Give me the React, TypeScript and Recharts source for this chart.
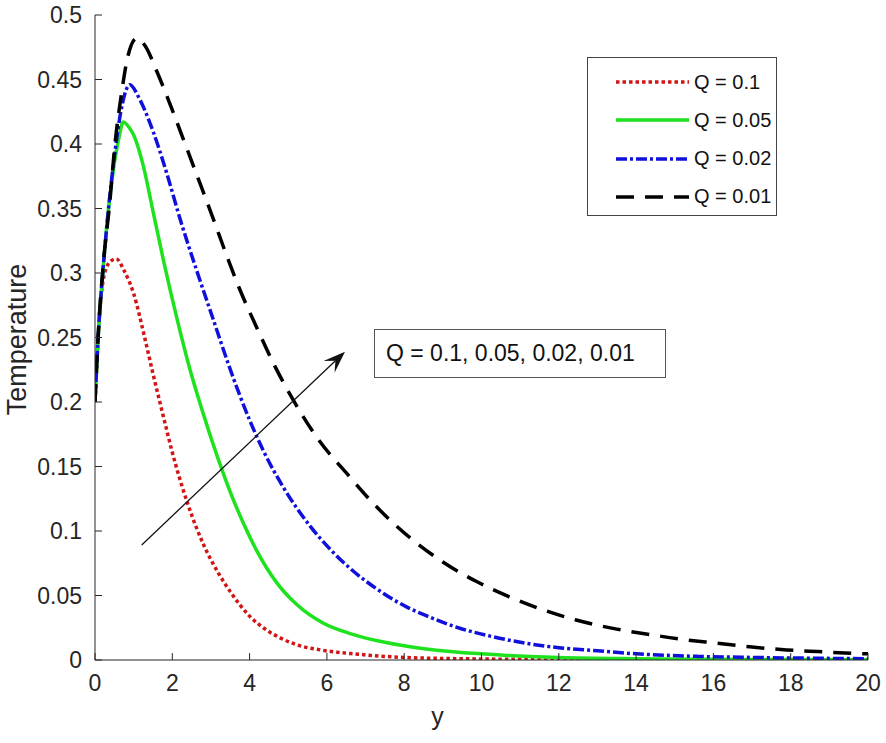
import React from "react";
import { Label, Legend, Line, LineChart, XAxis, YAxis } from "recharts";

const W = 886;
const H = 743;
const FONT = "'Liberation Sans', Arial, Helvetica, sans-serif";
const INK = "#262626";

const xTicks = [0, 2, 4, 6, 8, 10, 12, 14, 16, 18, 20];
const yTicks = [0, 0.05, 0.1, 0.15, 0.2, 0.25, 0.3, 0.35, 0.4, 0.45, 0.5];

// Q = 0.1
const redX = [0, 0.08, 0.16, 0.25, 0.4, 0.55, 0.75, 1.0, 1.3, 1.5, 1.8, 2.0, 2.4, 2.8, 3.2, 3.5, 4.0, 4.4, 4.8, 5.2, 5.9, 6.8, 8, 10, 12, 14, 16, 18, 20];
const redV = [0.2, 0.25, 0.282, 0.3, 0.309, 0.311, 0.302, 0.284, 0.248, 0.222, 0.185, 0.161, 0.121, 0.09, 0.067, 0.053, 0.034, 0.024, 0.017, 0.012, 0.0075, 0.0045, 0.002, 0.0008, 0.0004, 0.0002, 0.0001, 0.0001, 0.0001];

// Q = 0.05
const greenX = [0, 0.1, 0.2, 0.35, 0.5, 0.62, 0.73, 0.9, 1.0, 1.25, 1.5, 1.77, 2.11, 2.45, 2.8, 3.15, 3.49, 3.84, 4.18, 4.7, 5.22, 5.91, 6.6, 7.37, 8.15, 9.2, 10.7, 12, 14, 16, 18, 20];
const greenV = [0.2, 0.26, 0.3, 0.35, 0.385, 0.405, 0.417, 0.412, 0.407, 0.383, 0.348, 0.31, 0.266, 0.226, 0.191, 0.159, 0.131, 0.106, 0.085, 0.06, 0.043, 0.0285, 0.0205, 0.0145, 0.0103, 0.0065, 0.0035, 0.002, 0.001, 0.0005, 0.0003, 0.0002];

// Q = 0.02
const blueX = [0, 0.1, 0.2, 0.35, 0.5, 0.7, 0.9, 1.15, 1.5, 1.85, 2.2, 2.63, 3.06, 3.49, 4.0, 4.36, 4.87, 5.56, 6.08, 6.6, 7.2, 8.07, 8.6, 9.4, 10.3, 12, 13, 13.9, 15.6, 17, 18.5, 20];
const blueV = [0.2, 0.26, 0.3, 0.35, 0.39, 0.43, 0.446, 0.435, 0.41, 0.378, 0.342, 0.302, 0.264, 0.226, 0.186, 0.162, 0.134, 0.104, 0.086, 0.071, 0.057, 0.041, 0.034, 0.025, 0.018, 0.0095, 0.0072, 0.005, 0.0028, 0.002, 0.0014, 0.001];

// Q = 0.01
const blackX = [0, 0.085, 0.21, 0.39, 0.5, 0.69, 0.85, 1.08, 1.3, 1.59, 1.94, 2.37, 2.71, 3.06, 3.4, 3.75, 4.18, 4.65, 5.12, 5.73, 6.59, 7.15, 8.14, 9.0, 9.86, 10.72, 11.58, 12.45, 13.4, 14.3, 15.2, 16.1, 17.0, 17.9, 18.7, 19.6, 20];
const blackV = [0.2, 0.253, 0.305, 0.357, 0.395, 0.44, 0.468, 0.482, 0.476, 0.457, 0.431, 0.397, 0.37, 0.342, 0.314, 0.287, 0.258, 0.228, 0.202, 0.173, 0.142, 0.123, 0.095, 0.076, 0.061, 0.049, 0.039, 0.031, 0.0245, 0.02, 0.016, 0.013, 0.01, 0.0078, 0.0065, 0.0052, 0.0048];

const series = [
  { name: "Q = 0.1", xs: redX, vs: redV, color: "#d21414", dash: "3.5 3", width: 3.5 },
  { name: "Q = 0.05", xs: greenX, vs: greenV, color: "#1ee21e", dash: undefined, width: 3.5 },
  { name: "Q = 0.02", xs: blueX, vs: blueV, color: "#1010dc", dash: "11 3 3 3", width: 3.5 },
  { name: "Q = 0.01", xs: blackX, vs: blackV, color: "#000000", dash: "18 11", width: 3.5 },
];

const fmt = (v: number) => String(+v.toFixed(2));

function LegendBox() {
  return (
    <div
      style={{
        width: 190,
        height: 159,
        boxSizing: "border-box",
        border: "1.5px solid #444",
        background: "#fff",
        position: "relative",
        fontFamily: FONT,
        fontSize: 20,
        color: "#111",
      }}
    >
      {series.map((s, i) => (
        <div key={s.name} style={{ position: "absolute", left: 28, top: 10 + i * 38.3, height: 28, display: "flex", alignItems: "center" }}>
          <svg width={74} height={10}>
            <line x1={0} y1={5} x2={73} y2={5} stroke={s.color} strokeWidth={s.width} strokeDasharray={s.dash} />
          </svg>
          <span style={{ marginLeft: 4 }}>{s.name}</span>
        </div>
      ))}
    </div>
  );
}

// arrow from (141.7,545) to (345,351.7) in page pixels
function Arrow() {
  const x1 = 141.7, y1 = 545, x2 = 345, y2 = 351.7;
  const len = Math.hypot(x2 - x1, y2 - y1);
  const ux = (x2 - x1) / len, uy = (y2 - y1) / len;
  const nx = -uy, ny = ux;
  const L = 22, hw = 8;
  const bx = x2 - L * ux, by = y2 - L * uy;
  const head = `${x2},${y2} ${bx + hw * nx},${by + hw * ny} ${x2 - 0.6 * L * ux},${y2 - 0.6 * L * uy} ${bx - hw * nx},${by - hw * ny}`;
  return (
    <svg width={W} height={H} style={{ position: "absolute", left: 0, top: 0, pointerEvents: "none" }}>
      <line x1={x1} y1={y1} x2={x2 - 0.6 * L * ux} y2={y2 - 0.6 * L * uy} stroke="#111" strokeWidth={1.3} />
      <polygon points={head} fill="#111" />
    </svg>
  );
}

export default function App() {
  const tickStyle = { fill: INK, fontSize: 23, fontFamily: FONT };
  return (
    <div style={{ position: "absolute", left: 0, top: 0, width: W, height: H, background: "#fff" }}>
      <LineChart width={W} height={H} margin={{ top: 15, right: 18, left: 0, bottom: 13 }}>
        <XAxis
          type="number"
          dataKey="x"
          domain={[0, 20]}
          ticks={xTicks}
          tick={tickStyle}
          tickSize={-7}
          tickMargin={22}
          stroke={INK}
          height={70}
          allowDataOverflow
        >
          <Label value="y" position="insideBottom" offset={5} dx={-44} style={{ fill: INK, fontSize: 25, fontFamily: FONT }} />
        </XAxis>
        <XAxis xAxisId="top" orientation="top" type="number" domain={[0, 20]} ticks={xTicks} tick={false} tickSize={-7} stroke={INK} height={0} />
        <YAxis
          type="number"
          domain={[0, 0.5]}
          ticks={yTicks}
          tick={tickStyle}
          tickFormatter={fmt}
          tickSize={-7}
          tickMargin={20}
          stroke={INK}
          width={95}
          allowDataOverflow
        >
          <Label value="Temperature" angle={-90} position="insideLeft" offset={16} dy={2} style={{ fill: INK, fontSize: 27, fontFamily: FONT, textAnchor: "middle" }} />
        </YAxis>
        <YAxis yAxisId="right" orientation="right" type="number" domain={[0, 0.5]} ticks={yTicks} tick={false} tickSize={-7} stroke={INK} width={0} />
        <Legend
          layout="horizontal"
          verticalAlign="middle"
          align="center"
          content={() => <LegendBox />}
          wrapperStyle={{ left: 587, top: 57, width: 190, height: 159 }}
        />
        {series.map((s) => (
          <Line
            key={s.name}
            name={s.name}
            data={s.xs.map((x, i) => ({ x, v: s.vs[i] }))}
            dataKey="v"
            type="monotone"
            stroke={s.color}
            strokeWidth={s.width}
            strokeDasharray={s.dash}
            dot={false}
            activeDot={false}
            isAnimationActive={false}
          />
        ))}
      </LineChart>
      <Arrow />
      <div
        style={{
          position: "absolute",
          left: 374,
          top: 329,
          width: 292,
          height: 49,
          boxSizing: "border-box",
          border: "1.5px solid #555",
          background: "#fff",
          fontFamily: FONT,
          fontSize: 23,
          color: "#111",
          display: "flex",
          alignItems: "center",
          paddingLeft: 11,
          whiteSpace: "nowrap",
        }}
      >
        Q = 0.1, 0.05, 0.02, 0.01
      </div>
    </div>
  );
}
